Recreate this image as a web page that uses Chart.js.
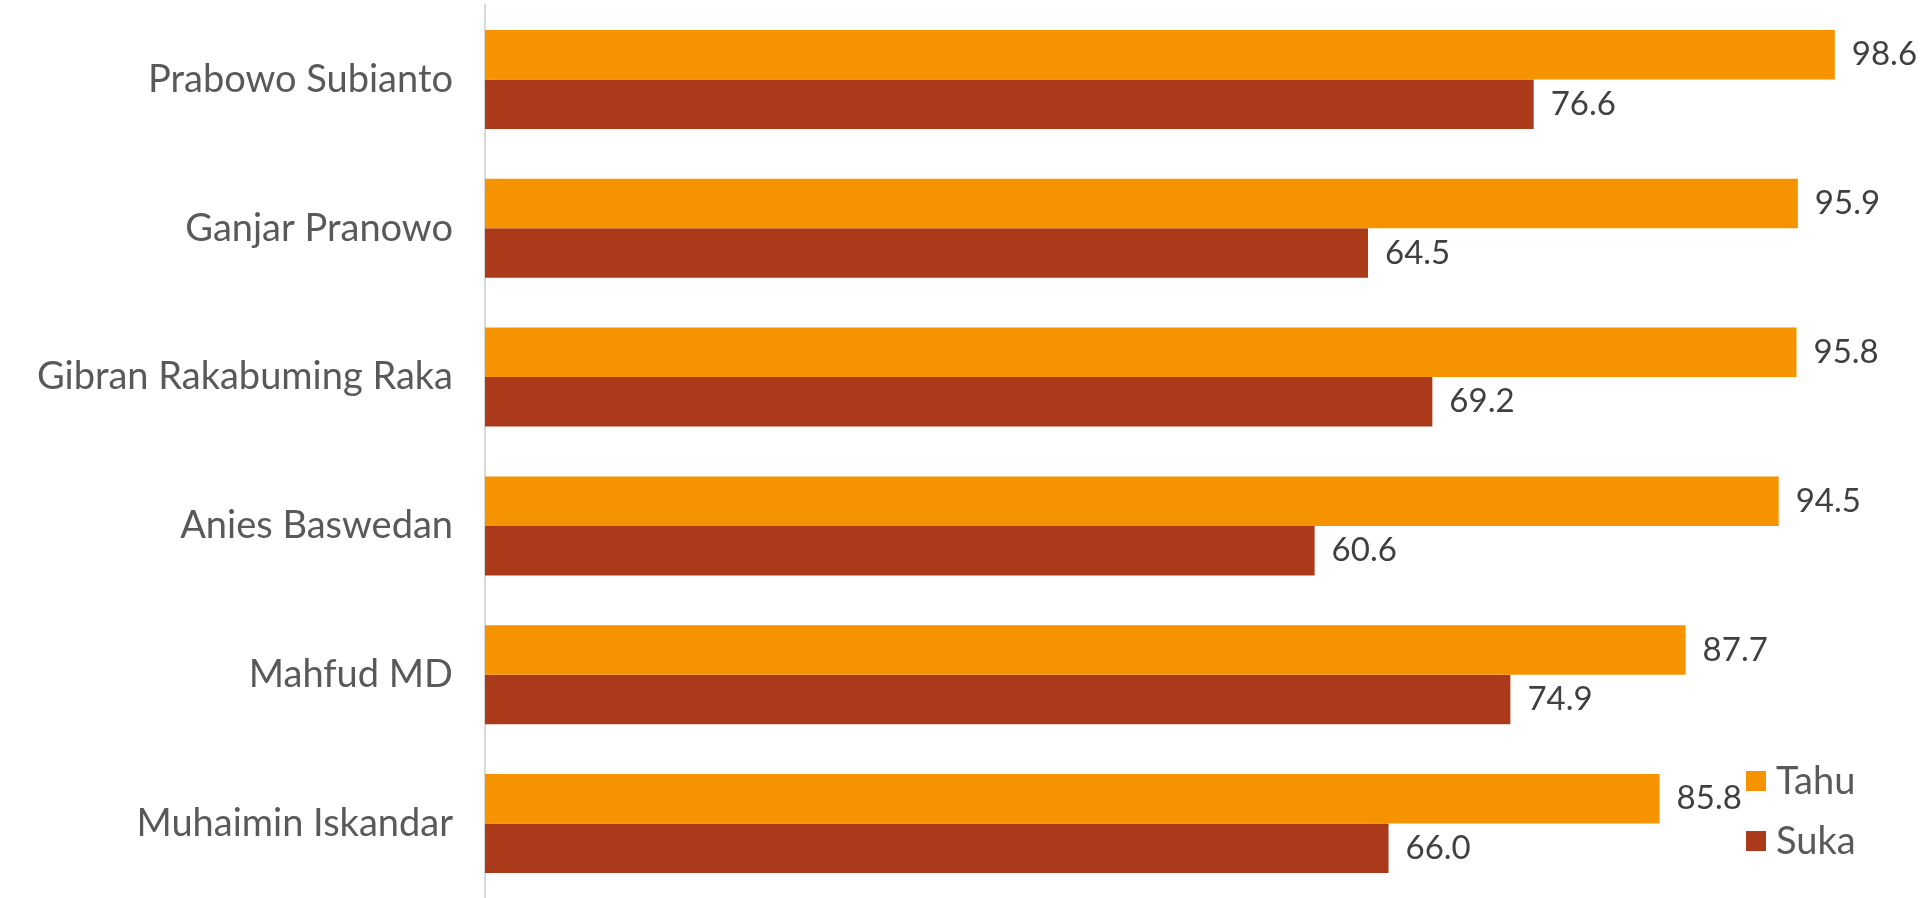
<!DOCTYPE html>
<html>
<head>
<meta charset="utf-8">
<script src="https://cdn.jsdelivr.net/npm/chart.js@4"></script>
<style>
  body { margin: 0; background: #fff; }
  #wrap { width: 1921px; height: 898px; position: relative; }
</style>
</head>
<body>
<div id="wrap"><canvas id="tokoh-chart"></canvas></div>
<script>
const names = ['Prabowo Subianto', 'Ganjar Pranowo', 'Gibran Rakabuming Raka', 'Anies Baswedan', 'Mahfud MD', 'Muhaimin Iskandar'];
const tahu = [98.6, 95.9, 95.8, 94.5, 87.7, 85.8];
const suka = [76.6, 64.5, 69.2, 60.6, 74.9, 66.0];

const FONT = 'Lato, "Open Sans", sans-serif';

// value labels at the end of each bar
const valueLabels = {
    id: 'valueLabels',
    afterDatasetsDraw(chart) {
        const ctx = chart.ctx;
        ctx.save();
        ctx.font = '33px ' + FONT;
        ctx.fillStyle = '#404040';
        ctx.textAlign = 'left';
        ctx.textBaseline = 'middle';
        chart.data.datasets.forEach((ds, i) => {
            chart.getDatasetMeta(i).data.forEach((bar, j) => {
                ctx.fillText(ds.data[j].toFixed(1), bar.x + 17, bar.y);
            });
        });
        ctx.restore();
    }
};

// legend in the bottom right corner
const cornerLegend = {
    id: 'cornerLegend',
    afterDraw(chart) {
        const ctx = chart.ctx;
        ctx.save();
        ctx.font = '38px ' + FONT;
        ctx.textBaseline = 'middle';
        chart.data.datasets.forEach((ds, i) => {
            const y = 781 + i * 60;
            ctx.fillStyle = ds.backgroundColor;
            ctx.fillRect(1746, y - 10, 20, 20);
            ctx.fillStyle = '#595959';
            ctx.fillText(ds.label, 1776, y + 1);
        });
        ctx.restore();
    }
};

const chartEl = document.getElementById('tokoh-chart');
const tokohChart = new Chart(chartEl, {
    type: 'bar',
    data: {
        labels: names,
        datasets: [{
            label: 'Tahu',
            data: tahu,
            backgroundColor: '#F59300'
        }, {
            label: 'Suka',
            data: suka,
            backgroundColor: '#AA3A1A'
        }]
    },
    options: {
        indexAxis: 'y',
        responsive: true,
        maintainAspectRatio: false,
        animation: false,
        layout: {
            padding: { top: 5, right: 67, bottom: -6, left: 0 }
        },
        datasets: {
            bar: {
                categoryPercentage: 0.665,
                barPercentage: 1
            }
        },
        scales: {
            x: {
                display: false,
                min: 0,
                max: 100
            },
            y: {
                afterFit(scale) {
                    scale.width = 485;
                    scale.paddingTop = 0;
                    scale.paddingBottom = 0;
                },
                grid: { display: false },
                border: { display: true, color: '#d9d9d9', width: 2 },
                ticks: {
                    padding: 24,
                    color: '#595959',
                    font: { size: 38, family: FONT }
                }
            }
        },
        plugins: {
            legend: { display: false },
            tooltip: { enabled: false }
        }
    },
    plugins: [valueLabels, cornerLegend]
});
</script>
</body>
</html>
